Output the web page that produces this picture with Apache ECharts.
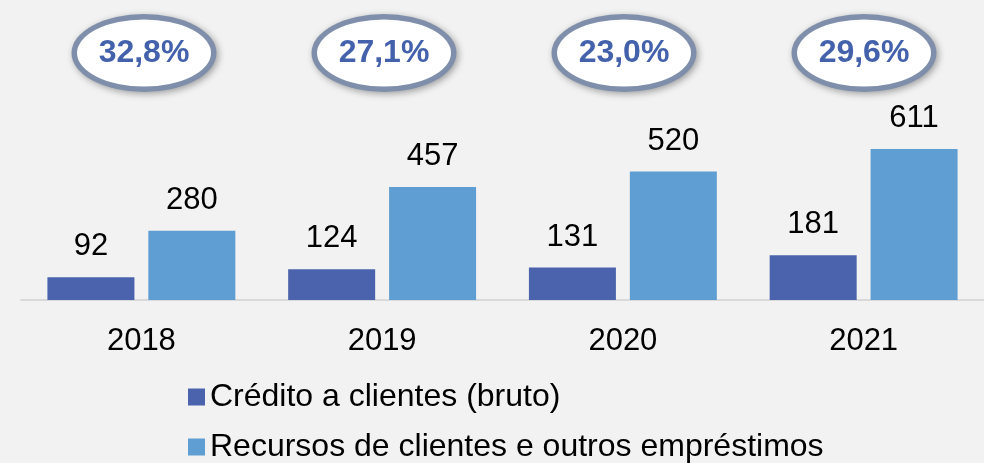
<!DOCTYPE html>
<html>
<head>
<meta charset="utf-8">
<script src="https://cdn.jsdelivr.net/npm/echarts@6/dist/echarts.min.js"></script>
<style>
	html, body { margin: 0; padding: 0; background: #f2f2f2; }
	#chart { width: 984px; height: 463px; }
</style>
</head>
<body>
<div id="chart"></div>
<script>
// anos
var years = ['2018', '2019', '2020', '2021'];
// Crédito a clientes (bruto)
var credito = [92, 124, 131, 181];
// Recursos de clientes e outros empréstimos
var recursos = [280, 457, 520, 611];
// rácio crédito / recursos (%)
var racio = [32.8, 27.1, 23.0, 29.6];

var nomeCredito = 'Crédito a clientes (bruto)';
var nomeRecursos = 'Recursos de clientes e outros empréstimos';

// legenda em duas linhas
function legenda(nome, top) {
	return {
		data: [nome],
		left: 188,
		top: top,
		padding: 0,
		itemWidth: 17,
		itemHeight: 17,
		icon: 'rect',
		selectedMode: false,
		textStyle: { fontSize: 32, color: '#000' }
	};
}

var myChart = echarts.init(document.getElementById('chart'));
myChart.setOption({
	backgroundColor: '#f2f2f2',
	animation: false,
	textStyle: { fontFamily: 'Liberation Sans, Arial, sans-serif' },
	legend: [legenda(nomeCredito, 381), legenda(nomeRecursos, 431)],
	grid: [
		{ left: 21, right: 0, top: 127, bottom: 163 },
		{ left: 24, width: 975, top: 14, height: 78 }
	],
	xAxis: [
		{
			type: 'category',
			data: years,
			axisLine: { lineStyle: { color: '#d9d9d9', width: 2 } },
			axisTick: { show: false },
			axisLabel: { fontSize: 31, color: '#000', margin: 26 }
		},
		{ type: 'category', gridIndex: 1, data: years, show: false }
	],
	yAxis: [
		{ type: 'value', min: 0, max: 700, show: false, splitLine: { show: false } },
		{ type: 'value', gridIndex: 1, min: 0, max: 1, show: false, splitLine: { show: false } }
	],
	series: [
		{
			name: nomeCredito,
			type: 'bar',
			data: credito,
			barWidth: 87,
			barGap: '16%',
			itemStyle: { color: '#4a63ac' },
			label: { show: true, position: 'top', distance: 15, fontSize: 31, color: '#000' }
		},
		{
			name: nomeRecursos,
			type: 'bar',
			data: recursos,
			barWidth: 87,
			itemStyle: { color: '#5f9ed2' },
			label: { show: true, position: 'top', distance: 15, fontSize: 31, color: '#000' }
		},
		// contorno da elipse com sombra
		{
			type: 'scatter',
			xAxisIndex: 1,
			yAxisIndex: 1,
			data: racio.map(function (v, i) { return [years[i], 0.5]; }),
			symbol: 'circle',
			symbolSize: [145, 78],
			itemStyle: {
				color: '#7f8fab',
				opacity: 1,
				shadowBlur: 7,
				shadowOffsetX: 2,
				shadowOffsetY: 2,
				shadowColor: 'rgba(0,0,0,0.35)'
			}
		},
		// interior branco + percentagem
		{
			type: 'scatter',
			xAxisIndex: 1,
			yAxisIndex: 1,
			data: racio.map(function (v, i) { return [years[i], 0.5, v]; }),
			symbol: 'circle',
			symbolSize: [134, 67],
			itemStyle: { color: '#fff', opacity: 1 },
			label: {
				show: true,
				position: 'inside',
				fontSize: 32,
				fontWeight: 'bold',
				color: '#4462ac',
				formatter: function (p) { return p.value[2].toFixed(1).replace('.', ',') + '%'; }
			}
		}
	]
});
</script>
</body>
</html>
